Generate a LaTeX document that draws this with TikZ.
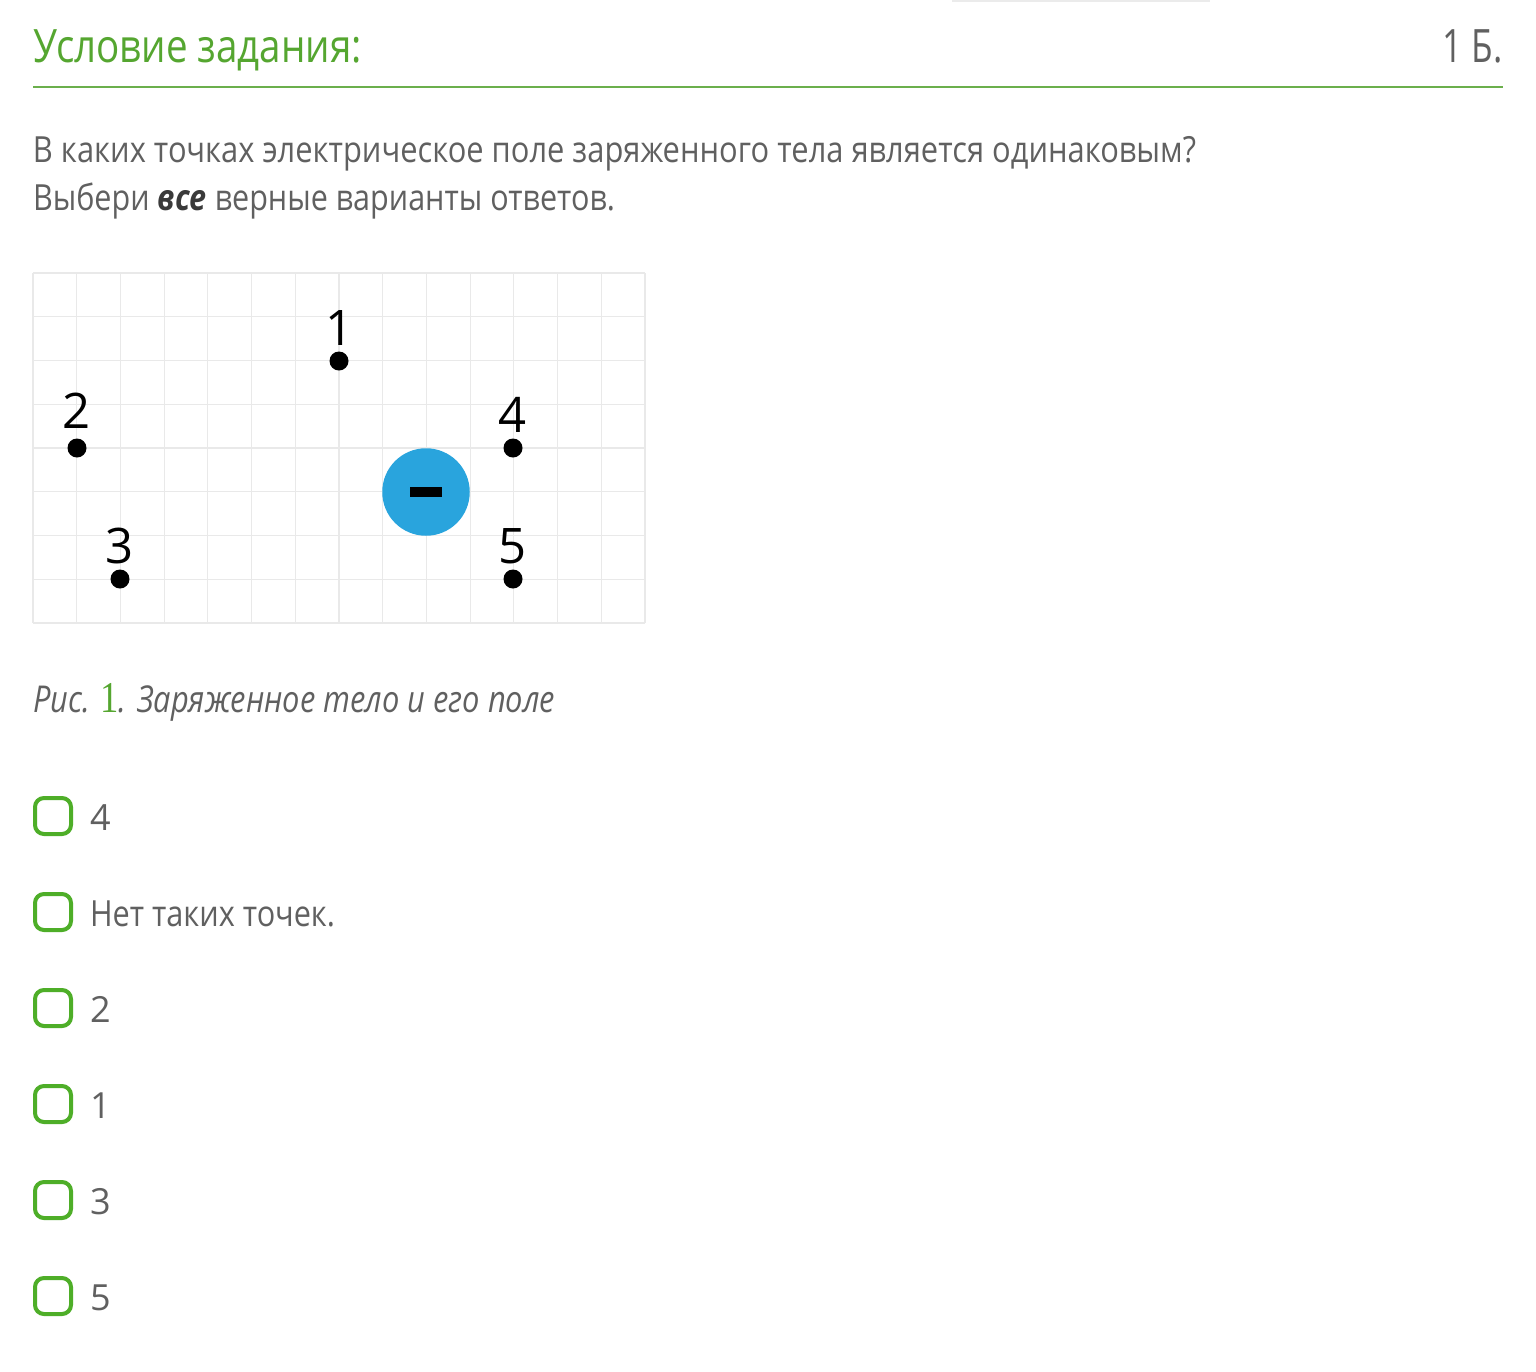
\documentclass[tikz,border=0pt]{standalone}
\usepackage{fontspec}
\setmainfont{Open Sans}
\newfontfamily\labfont{Open Sans}
\newfontfamily\numserif{Liberation Serif}
\usepackage{graphicx}
\definecolor{titlegreen}{HTML}{55A630}
\definecolor{linegreen}{HTML}{6BAF4C}
\definecolor{boxgreen}{HTML}{4EAE28}
\definecolor{txtgray}{HTML}{606060}
\definecolor{darktxt}{HTML}{3A3A3A}
\definecolor{gridgray}{HTML}{E9E9E9}
\definecolor{chargeblue}{HTML}{29A4DD}
\newcommand{\fitw}[2]{\resizebox{#1}{\height}{#2}}
\begin{document}
\begin{tikzpicture}[x=1pt,y=-1pt,
  txt/.style={anchor=base west,inner sep=0pt,outer sep=0pt,text=txtgray},
  gridline/.style={draw=gridgray,line width=1.2pt},
  pt/.style={circle,fill=black,inner sep=0pt,minimum size=19pt},
  lab/.style={anchor=base,inner sep=0pt,font=\labfont\fontsize{49}{52}\selectfont},
  chk/.style={draw=boxgreen,line width=4pt,rounded corners=9pt,minimum size=36pt,inner sep=0pt},
  opt/.style={txt,font=\fontsize{36}{40}\selectfont}]
\useasboundingbox (0,0) rectangle (1536,1371);
\fill[white] (0,0) rectangle (1536,1371);
% faint top line
\draw[black!8,line width=2pt] (952,0.5) -- (1210,0.5);
% header
\node[txt,text=titlegreen] (title) at (33,62) {\fitw{329pt}{\fontsize{46}{50}\selectfont Условие задания:}};
\node[anchor=base east,inner sep=0pt,text=txtgray] (score) at (1503,62) {\fitw{60pt}{\fontsize{46}{50}\selectfont 1 Б.}};
\coordinate (hl) at (33,87);
\coordinate (hr) at (1503,87);
\draw[linegreen,line width=2.5pt] (hl) -- (hr);
% question
\node[txt] (q1) at (33,162) {\fitw{1163pt}{\fontsize{36}{40}\selectfont В каких точках электрическое поле заряженного тела является одинаковым?}};
\node[txt] (q2) at (33,210) {\fitw{582pt}{\fontsize{36}{40}\selectfont Выбери {\color{darktxt}\bfseries\itshape все} верные варианты ответов.}};
% grid
\foreach \i in {0,...,14} {\draw[gridline] ({33+\i*612/14},273) -- ({33+\i*612/14},623);}
\foreach \j in {0,...,8} {\draw[gridline] (33,{273+\j*43.75}) -- (645,{273+\j*43.75});}
% charge
\node[circle,fill=chargeblue,minimum size=87.5pt,inner sep=0pt] (q) at (426,492) {};
\fill[black] (410,487) rectangle (442,497);
% points
\node[pt] (p1) at (339,361) {};
\node[pt] (p2) at (77,448) {};
\node[pt] (p3) at (120,579) {};
\node[pt] (p4) at (513,448) {};
\node[pt] (p5) at (513,579) {};
\node[lab] (l1) at (340,345) {1};
\node[lab] (l2) at (77,428) {2};
\node[lab] (l3) at (120,563) {3};
\node[lab] (l4) at (513,432) {4};
\node[lab] (l5) at (513,563) {5};
% caption
\node[txt] (cap) at (33,712) {\fitw{522pt}{\fontsize{37}{40}\selectfont\itshape Рис. {\color{titlegreen}\numserif\upshape\fontsize{44}{44}\selectfont 1}. Заряженное тело и его поле}};
% options
\node[chk] (c1) at (53,816) {};
\node[chk] (c2) at (53,912) {};
\node[chk] (c3) at (53,1008) {};
\node[chk] (c4) at (53,1104) {};
\node[chk] (c5) at (53,1200) {};
\node[chk] (c6) at (53,1296) {};
\node[opt] (o1) at (90,830) {4};
\node[opt] (o2) at (90,926) {\fitw{245pt}{Нет таких точек.}};
\node[opt] (o3) at (90,1022) {2};
\node[opt] (o4) at (90,1118) {1};
\node[opt] (o5) at (90,1214) {3};
\node[opt] (o6) at (90,1310) {5};
\end{tikzpicture}
\end{document}
